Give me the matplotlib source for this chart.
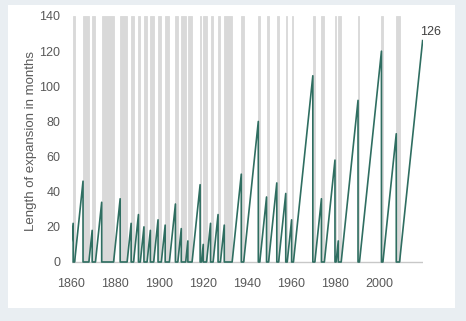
import matplotlib

matplotlib.use("Agg")
import matplotlib.pyplot as plt
from matplotlib.patches import Rectangle

# NBER business cycle turning points (year-month); last "peak" is the end of data
troughs = ["1858-12", "1861-06", "1867-12", "1870-12", "1879-03", "1885-05", "1888-04",
           "1891-05", "1894-06", "1897-06", "1900-12", "1904-08", "1908-06", "1912-01",
           "1914-12", "1919-03", "1921-07", "1924-07", "1927-11", "1933-03", "1938-06",
           "1945-10", "1949-10", "1954-05", "1958-04", "1961-02", "1970-11", "1975-03",
           "1980-07", "1982-11", "1991-03", "2001-11", "2009-06"]
peaks = ["1860-10", "1865-04", "1869-06", "1873-10", "1882-03", "1887-03", "1890-07",
         "1893-01", "1895-12", "1899-06", "1902-09", "1907-05", "1910-01", "1913-01",
         "1918-08", "1920-01", "1923-05", "1926-10", "1929-08", "1937-05", "1945-02",
         "1948-11", "1953-07", "1957-08", "1960-04", "1969-12", "1973-11", "1980-01",
         "1981-07", "1990-07", "2001-03", "2007-12", "2019-12"]
expansion_months = [22, 46, 18, 34, 36, 22, 27, 20, 18, 24, 21, 33, 19, 12, 44, 10, 22,
                    27, 21, 50, 80, 37, 45, 39, 24, 106, 36, 58, 12, 92, 120, 73, 126]
x_ticks = [1860, 1880, 1900, 1920, 1940, 1960, 1980, 2000]
y_ticks = [0, 20, 40, 60, 80, 100, 120, 140]


def to_year(s):
    y, m = s.split("-")
    return int(y) + (int(m) - 1) / 12


tr = [to_year(s) for s in troughs]
pk = [to_year(s) for s in peaks]

# sawtooth: rise from trough to peak, drop at peak, flat through recession
xs, ys = [], []
for t, p, v in zip(tr, pk, expansion_months):
    xs += [t, p, p]
    ys += [0, v, 0]
xs, ys = xs[:-1], ys[:-1]

plt.rcParams["font.family"] = ["Liberation Sans", "DejaVu Sans"]
fig = plt.figure(figsize=(4.66, 3.21), dpi=100)
fig.patch.set_facecolor("#e9eef2")
fig.add_artist(Rectangle((8 / 466, 13 / 321), 447 / 466, 303 / 321,
                         transform=fig.transFigure, facecolor="white",
                         edgecolor="none", zorder=-10))

ax = fig.add_axes([71.5 / 466, 55.5 / 321, 351.3 / 466, 249.5 / 321])
ax.set_facecolor("none")

# recessions: peak to next trough
rec_start = pk[:-1]
rec_width = [t - p for p, t in zip(pk[:-1], tr[1:])]
ax.bar(rec_start, [140] * len(rec_start), width=rec_width, align="edge",
       color="#d9d9d9", edgecolor="#d9d9d9", linewidth=0.6, zorder=1)

ax.axhline(0, color="#c8c8c8", lw=1.0, zorder=2)
ax.plot(xs, ys, color="#2f6e61", lw=1.2, zorder=3)
ax.text(2018.8, 131, str(expansion_months[-1]), ha="left", va="center",
        fontsize=9, color="#404040")

ax.set_xlim(1860, 2020)
ax.set_ylim(-2, 140)
ax.set_xticks(x_ticks)
ax.set_yticks(y_ticks)
ax.tick_params(length=0, labelsize=9, labelcolor="#595959")
ax.tick_params(axis="y", pad=8)
ax.tick_params(axis="x", pad=9)
for s in ax.spines.values():
    s.set_visible(False)
ax.set_ylabel("Length of expansion in months", fontsize=9.5, color="#595959", labelpad=2)

fig.savefig("out.png", dpi=100)
